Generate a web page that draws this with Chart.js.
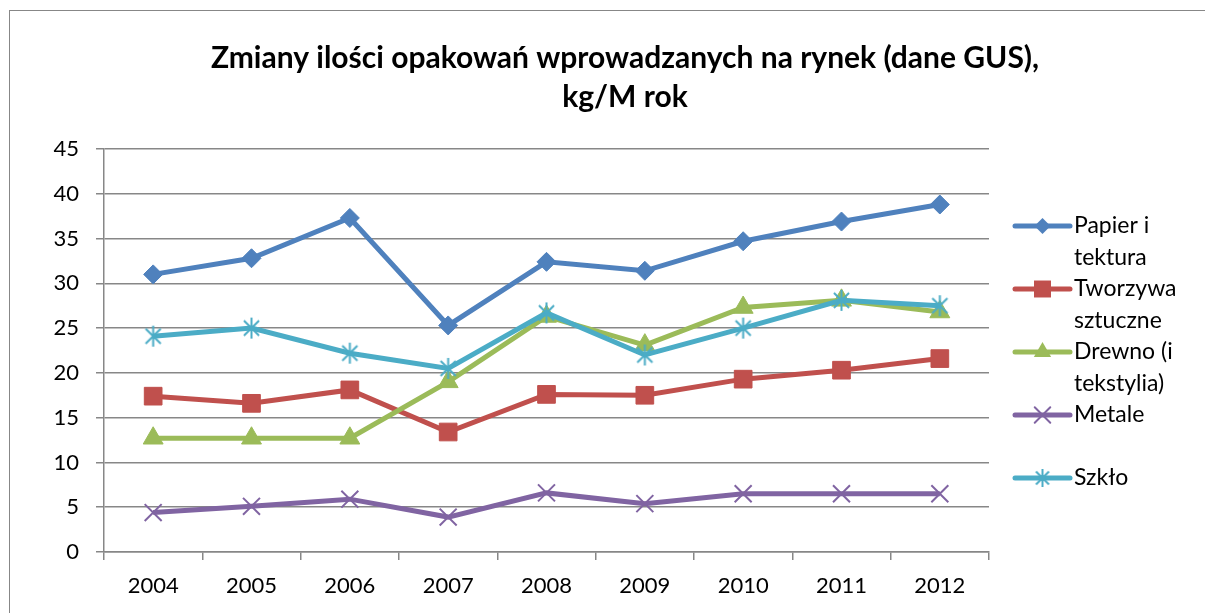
<!DOCTYPE html>
<html><head><meta charset="utf-8">
<script src="https://cdn.jsdelivr.net/npm/chart.js@4.4.0/dist/chart.umd.min.js"></script>
<style>
html,body{margin:0;padding:0;background:#fff;overflow:hidden;width:1205px;height:613px}
#frame{position:absolute;left:9px;top:10px;border:1px solid #878787;width:1230px;height:640px}
canvas{display:block}
</style></head><body>
<div id="frame"><canvas id="c" width="1230" height="640"></canvas></div>
<script>
// ---- data ----
const years = ['2004','2005','2006','2007','2008','2009','2010','2011','2012'];
const papier   = [31.0, 32.8, 37.3, 25.3, 32.4, 31.4, 34.7, 36.9, 38.8];
const tworzywa = [17.4, 16.6, 18.1, 13.4, 17.6, 17.5, 19.3, 20.3, 21.6];
const drewno   = [12.7, 12.7, 12.7, 19.0, 26.3, 23.1, 27.3, 28.1, 26.8];
const metale   = [4.4, 5.1, 5.9, 3.9, 6.6, 5.4, 6.5, 6.5, 6.5];
const szklo    = [24.1, 25.0, 22.2, 20.5, 26.7, 22.0, 25.0, 28.1, 27.5];
const seriesNames = ['Papier i tektura', 'Tworzywa sztuczne', 'Drewno (i tekstylia)', 'Metale', 'Szkło'];
const titleLines = ['Zmiany ilości opakowań wprowadzanych na rynek (dane GUS),', 'kg/M rok'];
const yMin = 0, yMax = 45, yStep = 5;

// ---- styles ----
const colors = ['#4F81BD', '#C0504D', '#9BBB59', '#8064A2', '#4BACC6'];
const FONT = 'Lato';

function makeAsterisk(color, r, lw) {
  const s = Math.ceil(2 * r + lw * 2);
  const cv = document.createElement('canvas');
  cv.width = s; cv.height = s;
  const g = cv.getContext('2d');
  const c = s / 2, d = r * 0.72;
  g.strokeStyle = color; g.lineWidth = lw;
  g.beginPath();
  g.moveTo(c - d, c - d); g.lineTo(c + d, c + d);
  g.moveTo(c + d, c - d); g.lineTo(c - d, c + d);
  g.moveTo(c, c - r); g.lineTo(c, c + r);
  g.stroke();
  return cv;
}
const starImg = makeAsterisk(colors[4], 10.5, 2);
const starImgSmall = makeAsterisk(colors[4], 9, 2);

function drawMarker(ctx, style, x, y, color, r) {
  ctx.save();
  ctx.fillStyle = color; ctx.strokeStyle = color; ctx.lineWidth = 1;
  ctx.beginPath();
  if (style === 'rectRot') {
    ctx.moveTo(x, y - r); ctx.lineTo(x + r, y); ctx.lineTo(x, y + r); ctx.lineTo(x - r, y); ctx.closePath();
    ctx.fill();
  } else if (style === 'rect') {
    const h = r * Math.SQRT1_2;
    ctx.rect(x - h, y - h, 2 * h, 2 * h); ctx.fill();
  } else if (style === 'triangle') {
    for (let k = 0; k < 3; k++) {
      const a = -Math.PI / 2 + k * 2 * Math.PI / 3;
      const px = x + Math.cos(a) * r, py = y + Math.sin(a) * r;
      k ? ctx.lineTo(px, py) : ctx.moveTo(px, py);
    }
    ctx.closePath(); ctx.fill();
  } else if (style === 'crossRot') {
    const d = r * Math.SQRT1_2;
    ctx.lineWidth = 2;
    ctx.moveTo(x - d, y - d); ctx.lineTo(x + d, y + d);
    ctx.moveTo(x + d, y - d); ctx.lineTo(x - d, y + d);
    ctx.stroke();
  } else if (style instanceof HTMLCanvasElement) {
    ctx.drawImage(starImgSmall, x - starImgSmall.width / 2, y - starImgSmall.height / 2);
  }
  ctx.restore();
}

const sideLegend = {
  id: 'sideLegend',
  afterDraw(chart, args, opts) {
    const ctx = chart.ctx;
    ctx.save();
    ctx.font = opts.font;
    ctx.textBaseline = 'middle';
    ctx.textAlign = 'left';
    chart.data.datasets.forEach((ds, i) => {
      const y = opts.y0 + i * opts.step;
      ctx.strokeStyle = ds.borderColor; ctx.lineWidth = 5; ctx.lineCap = 'round';
      ctx.beginPath(); ctx.moveTo(opts.x0, y); ctx.lineTo(opts.x1, y); ctx.stroke();
      drawMarker(ctx, ds.pointStyle, (opts.x0 + opts.x1) / 2, y, ds.borderColor, opts.markerR[i]);
      const words = ds.label.split(' ');
      const lines = []; let cur = '';
      words.forEach(w => {
        const t = cur ? cur + ' ' + w : w;
        if (cur && ctx.measureText(t).width > opts.maxW) { lines.push(cur); cur = w; } else cur = t;
      });
      if (cur) lines.push(cur);
      ctx.fillStyle = '#000';
      lines.forEach((t, k) => ctx.fillText(t, opts.tx, y + k * opts.lineH));
    });
    ctx.restore();
  }
};

const seriesData = [papier, tworzywa, drewno, metale, szklo];
const pointStyles = ['rectRot', 'rect', 'triangle', 'crossRot', starImg];
const pointRadii = [9.5, 12.5, 11.5, 12, 11];

const datasets = seriesData.map((d, i) => ({
  label: seriesNames[i],
  data: d,
  borderColor: colors[i],
  backgroundColor: colors[i],
  borderWidth: 5,
  tension: 0,
  pointStyle: pointStyles[i],
  pointRadius: pointRadii[i],
  pointBorderWidth: i === 3 ? 2 : 1,
  pointBackgroundColor: colors[i],
  pointBorderColor: colors[i],
  order: 5 - i
}));

new Chart(document.getElementById('c'), {
  type: 'line',
  data: { labels: years, datasets },
  options: {
    responsive: false,
    animation: false,
    devicePixelRatio: 1,
    layout: { padding: { top: 28, right: 0, left: 0, bottom: 0 } },
    plugins: {
      legend: { display: false },
      tooltip: { enabled: false },
      title: {
        display: true,
        text: titleLines,
        color: '#000',
        font: { family: FONT, size: 30, weight: 'bold', lineHeight: 1.3 },
        padding: { top: 0, bottom: 32 }
      },
      sideLegend: {
        font: '23px ' + FONT,
        x0: 1005, x1: 1060, tx: 1064, y0: 215, step: 63, lineH: 31.5, maxW: 128,
        markerR: [8, 12, 10, 11, 9]
      }
    },
    scales: {
      x: {
        offset: true,
        grid: { display: true, offset: true, drawOnChartArea: false, drawTicks: true, tickLength: 8, color: '#878787', lineWidth: 1.5 },
        border: { display: true, color: '#878787', width: 1.5 },
        ticks: { color: '#000', font: { family: FONT, size: 22 }, padding: 13, maxRotation: 0 },
        afterFit: s => { s.height = 99; }
      },
      y: {
        min: yMin, max: yMax,
        grid: { color: '#878787', lineWidth: 1.5, drawTicks: true, tickLength: 8 },
        border: { display: true, color: '#878787', width: 1.5 },
        ticks: { stepSize: yStep, color: '#000', font: { family: FONT, size: 22 }, padding: 17 },
        afterFit: s => { s.width = 94; }
      },
      legendSpace: {
        type: 'linear',
        position: 'right',
        display: true,
        grid: { display: false, drawTicks: false },
        border: { display: false },
        ticks: { display: false },
        afterFit: s => { s.width = 251; }
      }
    }
  },
  plugins: [sideLegend]
});
</script>
</body></html>
